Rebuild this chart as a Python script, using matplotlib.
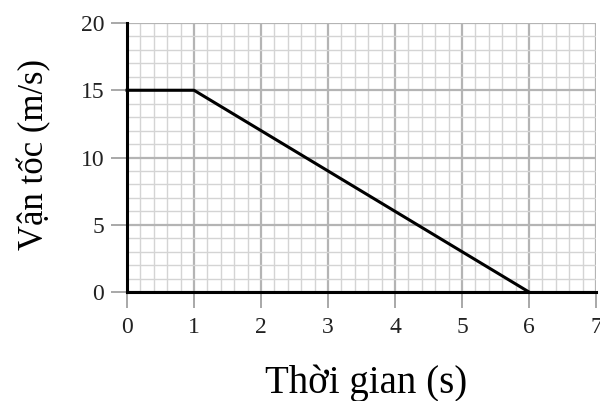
import matplotlib
matplotlib.use('Agg')
import matplotlib.pyplot as plt
import numpy as np

# data
time_s = [0, 1, 6]
velocity = [15, 15, 0]
x_ticks = [0, 1, 2, 3, 4, 5, 6, 7]
y_ticks = [0, 5, 10, 15, 20]

plt.rcParams['font.family'] = ['Liberation Serif', 'DejaVu Serif']

fig = plt.figure(figsize=(6, 4.01), dpi=100)
ax = fig.add_axes([0.2117, 0.2718, 0.7816, 0.6708])

ax.set_xlim(0, 7)
ax.set_ylim(0, 20)
ax.set_xticks(x_ticks)
ax.set_yticks(y_ticks)
ax.set_xticks(np.arange(0, 7.01, 0.2), minor=True)
ax.set_yticks(np.arange(0, 20.01, 1), minor=True)

ax.grid(True, which='minor', color='#d4d4d4', linewidth=1.0)
ax.grid(True, which='major', color='#b4b4b4', linewidth=1.6)
ax.set_axisbelow(True)

ax.plot(time_s, velocity, color='black', linewidth=2.2, clip_on=False, zorder=3)

for s in ['top', 'right']:
    ax.spines[s].set_visible(False)
for s in ['left', 'bottom']:
    ax.spines[s].set_linewidth(2.2)
    ax.spines[s].set_color('black')
    ax.spines[s].set_zorder(4)

ax.tick_params(which='major', length=11.5, width=1.2, color='#999999',
               labelsize=17, labelcolor='#222222')
ax.tick_params(axis='x', which='major', pad=6.5)
ax.tick_params(axis='y', which='major', pad=5)
ax.tick_params(which='minor', length=0)

xl = ax.set_xlabel('Thời gian (s)', fontsize=28)
xl.set_va('baseline')
ax.xaxis.set_label_coords(0.51, -0.375)

yl = ax.set_ylabel('Vận tốc (m/s)', fontsize=25)
yl.set_rotation_mode('anchor')
yl.set_va('baseline')
yl.set_ha('center')
ax.yaxis.set_label_coords(-0.179, 0.513)

fig.savefig('out.png', dpi=100)
